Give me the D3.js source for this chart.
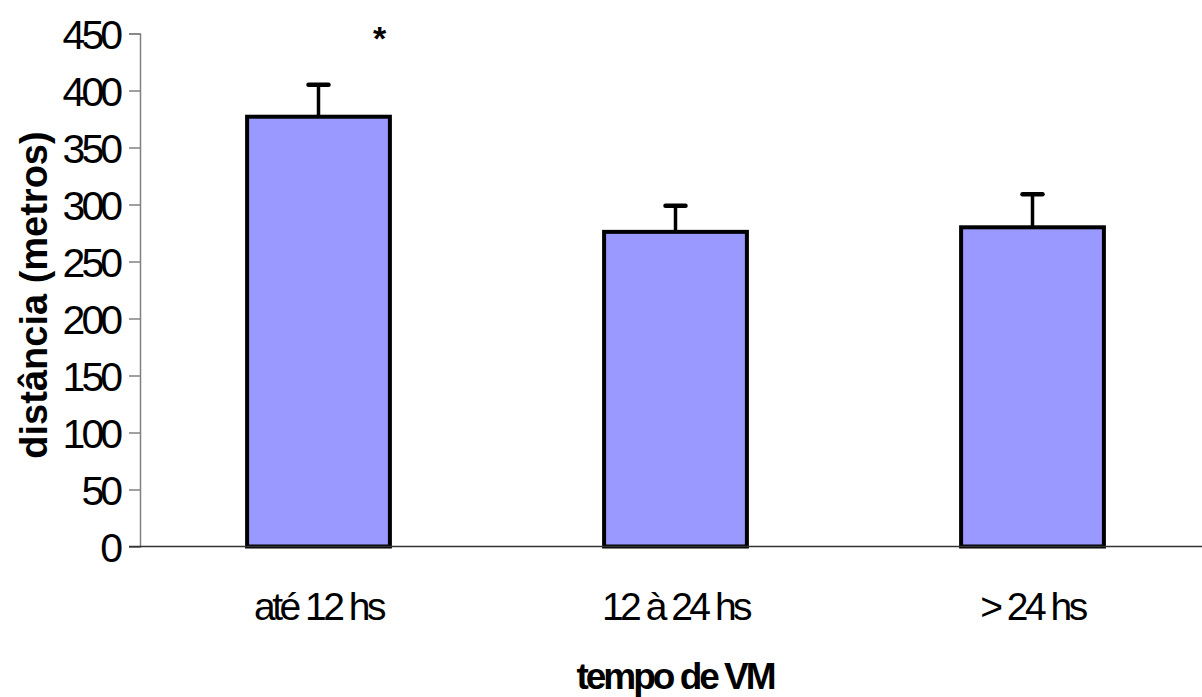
<!DOCTYPE html>
<html>
<head>
<meta charset="utf-8">
<script src="https://cdn.jsdelivr.net/npm/d3@7"></script>
<style>
  html, body { margin: 0; padding: 0; background: #fff; }
  svg { display: block; font-family: "Liberation Sans", Arial, sans-serif; }
</style>
</head>
<body>
<svg id="chart" width="1202" height="697"></svg>
<script>
// Distance walked by ventilation-time group
const categories = ["até 12 hs", "12 à 24 hs", "> 24 hs"];
const means = [377, 276, 280];
const errors = [28, 23, 29];
const yTicks = [0, 50, 100, 150, 200, 250, 300, 350, 400, 450];
const significance = ["*", "", ""];

const svg = d3.select("#chart");
const plotLeft = 140, plotRight = 1211, plotTop = 33.5, plotBottom = 546.5;

const x = d3.scaleBand().domain(categories).range([plotLeft, plotRight]).paddingInner(0.6).paddingOuter(0.3);
const y = d3.scaleLinear().domain([0, 450]).range([plotBottom, plotTop]);

// Y axis
const yAxis = svg.append("g")
  .attr("transform", `translate(${plotLeft},0)`)
  .call(d3.axisLeft(y).tickValues(yTicks).tickSize(11).tickPadding(10));
yAxis.select(".domain").attr("stroke", "#808080").attr("stroke-width", 1.5);
yAxis.selectAll(".tick line").attr("stroke", "#808080").attr("stroke-width", 1.5);
yAxis.selectAll(".tick text")
  .attr("fill", "#000")
  .style("font-size", "41px")
  .style("letter-spacing", "-4px")
  .attr("dy", "0.36em");

// Bars
svg.append("g").selectAll("rect")
  .data(means)
  .join("rect")
  .attr("x", (d, i) => x(categories[i]))
  .attr("y", d => y(d))
  .attr("width", x.bandwidth())
  .attr("height", d => y(0) - y(d))
  .attr("fill", "#9999FF")
  .attr("stroke", "#000")
  .attr("stroke-width", 4);

// Upper error bars
const eb = svg.append("g").attr("stroke", "#000");
means.forEach((m, i) => {
  const cx = x(categories[i]) + x.bandwidth() / 2;
  eb.append("line")
    .attr("x1", cx).attr("x2", cx)
    .attr("y1", y(m)).attr("y2", y(m + errors[i]))
    .attr("stroke-width", 3.5);
  eb.append("line")
    .attr("x1", cx - 10).attr("x2", cx + 10)
    .attr("y1", y(m + errors[i])).attr("y2", y(m + errors[i]))
    .attr("stroke-width", 4.5)
    .attr("stroke-linecap", "round");
});

// X axis baseline
svg.append("line")
  .attr("x1", plotLeft - 11).attr("x2", plotRight)
  .attr("y1", y(0)).attr("y2", y(0))
  .attr("stroke", "#333").attr("stroke-width", 1.5);

// Category labels
svg.append("g").selectAll("text")
  .data(categories)
  .join("text")
  .attr("x", d => x(d) + x.bandwidth() / 2)
  .attr("y", 620)
  .attr("text-anchor", "middle")
  .style("font-size", "39px")
  .style("letter-spacing", "-3.5px")
  .text(d => d);

// Significance marker
svg.append("g").selectAll("text")
  .data(significance)
  .join("text")
  .attr("x", (d, i) => x(categories[i]) + x.bandwidth() / 2 + 61)
  .attr("y", 50)
  .attr("text-anchor", "middle")
  .style("font-size", "34px")
  .style("font-weight", "bold")
  .text(d => d);

// Axis titles
svg.append("text")
  .attr("x", 675)
  .attr("y", 689)
  .attr("text-anchor", "middle")
  .style("font-size", "37px")
  .style("font-weight", "bold")
  .style("letter-spacing", "-3px")
  .text("tempo de VM");

svg.append("text")
  .attr("transform", `translate(47,${(plotTop + plotBottom) / 2 + 5}) rotate(-90)`)
  .attr("text-anchor", "middle")
  .style("font-size", "38px")
  .style("font-weight", "bold")
  .style("letter-spacing", "0px")
  .text("distância (metros)");
</script>
</body>
</html>
